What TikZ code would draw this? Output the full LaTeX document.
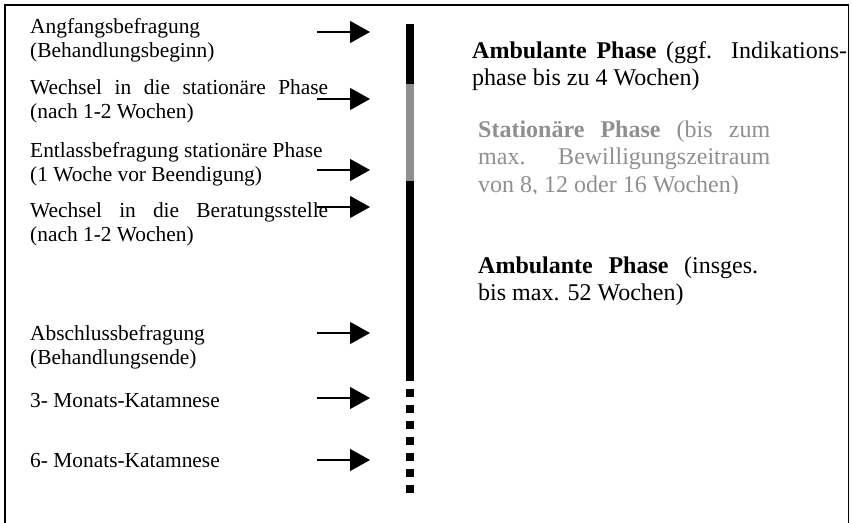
\documentclass[tikz,border=0pt]{standalone}
\usepackage{fontspec}
\setmainfont{Liberation Serif}
\usetikzlibrary{arrows.meta}
\definecolor{phasegray}{RGB}{143,143,143}
\tikzset{
  lefttext/.style={anchor=base west, inner sep=0pt, font=\fontsize{21.4}{24.2}\selectfont},
  righttext/.style={anchor=base west, inner sep=0pt, font=\fontsize{24}{27.5}\selectfont},
  timearrow/.style={line width=1.2pt, -{Triangle[length=20pt,width=22pt]}},
  barline/.style={line width=8pt, line cap=butt},
}
\begin{document}
\begin{tikzpicture}[x=1pt,y=-1pt]
\useasboundingbox (0,0) rectangle (853,522);
% frame (bottom edge lies outside the picture)
\draw[line width=1.8pt] (5.3,530) -- (5.3,5) -- (848.5,5) -- (848.5,530);

% time bar
\draw[barline, black] (409.5,24) -- (409.5,84);
\draw[barline, phasegray] (409.5,84) -- (409.5,181);
\draw[barline, black] (409.5,181) -- (409.5,381);
\draw[barline, black, dash pattern=on 8pt off 8pt] (409.5,389) -- (409.5,494);

% left labels
\node[lefttext] (t1) at (30,33) {\parbox[t]{320pt}{Angfangsbefragung\\(Behandlungsbeginn)}};
\node[lefttext] (t2) at (30,94) {\parbox[t]{320pt}{\makebox[298pt][s]{Wechsel in die stationäre Phase}\\(nach 1-2 Wochen)}};
\node[lefttext] (t3) at (30,157) {\parbox[t]{320pt}{Entlassbefragung stationäre Phase\\(1 Woche vor Beendigung)}};
\node[lefttext] (t4) at (30,217) {\parbox[t]{320pt}{\makebox[298pt][s]{Wechsel in die Beratungsstelle}\\(nach 1-2 Wochen)}};
\node[lefttext] (t5) at (30,340) {\parbox[t]{320pt}{Abschlussbefragung\\(Behandlungsende)}};
\node[lefttext] (t6) at (30,407) {3- Monats-Katamnese};
\node[lefttext] (t7) at (30,467) {6- Monats-Katamnese};

% arrows
\foreach \i/\y in {1/32,2/99,3/170,4/207,5/333,6/398,7/460}{
  \coordinate (s\i) at (317,\y);
  \coordinate (e\i) at (370,\y);
  \draw[timearrow] (s\i) -- (e\i);
}

% right labels
\node[righttext] (r1) at (472,58) {\parbox[t]{380pt}{\makebox[375pt][s]{\textbf{Ambulante Phase} (ggf. Indikations-}\\phase bis zu 4 Wochen)}};
\begin{scope}
\clip (460,100) rectangle (800,193);
\node[righttext, text=phasegray] (r2) at (478,137) {\parbox[t]{300pt}{\makebox[292pt][s]{\textbf{Stationäre Phase} (bis zum}\\\makebox[292pt][s]{max. Bewilligungszeitraum}\\von 8, 12 oder 16 Wochen)}};
\end{scope}
\node[righttext] (r3) at (478,273) {\parbox[t]{300pt}{\makebox[280pt][s]{\textbf{Ambulante Phase} (insges.}\\bis max. 52 Wochen)}};
\end{tikzpicture}
\end{document}
